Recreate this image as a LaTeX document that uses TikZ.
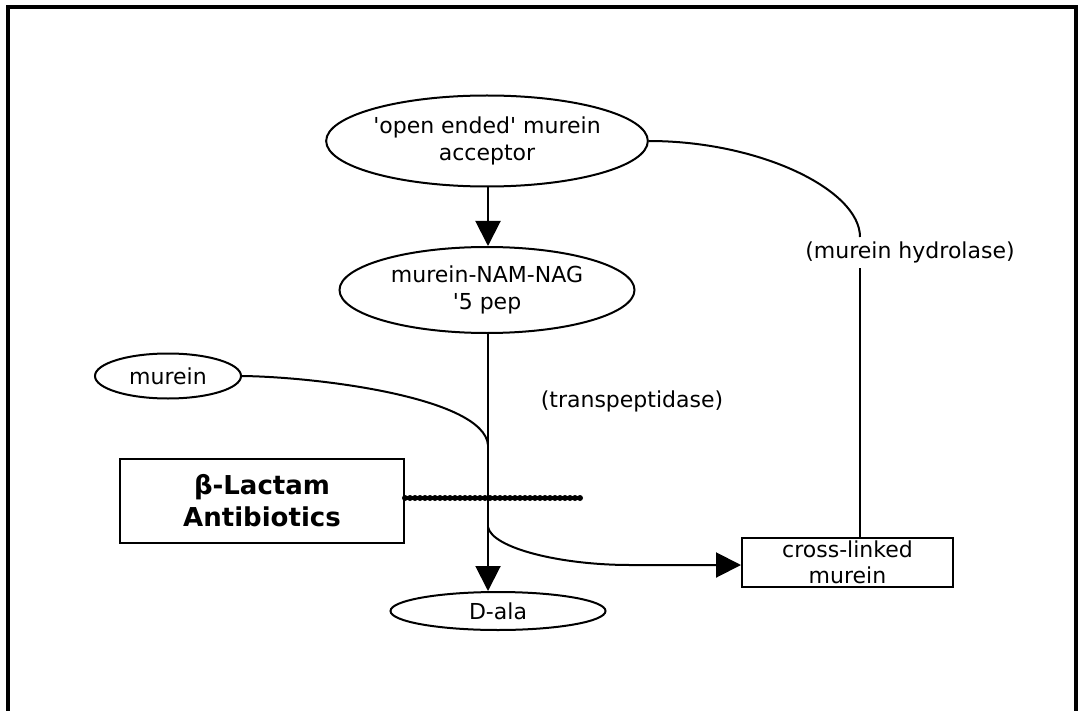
\documentclass[tikz,border=0pt]{standalone}
\usepackage{fontspec}
\setmainfont{DejaVu Sans}[Ligatures=TeXOff]
\usetikzlibrary{shapes.geometric,arrows.meta}
\begin{document}
\begin{tikzpicture}[x=1pt,y=-1pt, line width=2pt,
  ell/.style={ellipse, draw, inner sep=0pt, align=center, font=\fontsize{22}{27}\selectfont},
  rbox/.style={rectangle, draw, inner sep=0pt, align=center},
  lbl/.style={inner sep=0pt, font=\fontsize{22}{27}\selectfont},
  arr/.style={-{Triangle[length=25pt,width=25pt]}},
  blk/.style={line width=6pt, dash pattern=on 0pt off 5pt, line cap=round}]
\useasboundingbox (0,0) rectangle (1078,711);
\draw[line width=3.5pt] (8,711) -- (8,7) -- (1076,7) -- (1076,711);

\node[ell, minimum width=307pt, minimum height=91pt] (A) at (487,141) {'open ended' murein\\acceptor};
\node[ell, minimum width=295pt, minimum height=86pt] (B) at (487,290) {murein-NAM-NAG\\'5 pep};
\node[ell, minimum width=146pt, minimum height=45pt] (M) at (168,376) {murein};
\node[ell, minimum width=215pt, minimum height=38pt] (D) at (498,611) {D-ala};
\node[rbox, minimum width=284pt, minimum height=84pt, font=\bfseries\fontsize{26}{32}\selectfont] (L) at (262,501) {β-Lactam\\Antibiotics};
\node[rbox, minimum width=211pt, minimum height=49pt, font=\fontsize{22}{26}\selectfont] (C) at (847.5,562.5) {cross-linked\\murein};
\node[lbl] (T) at (632,401) {(transpeptidase)};
\node[lbl] (H) at (910,252) {(murein hydrolase)};

\coordinate (j1) at (488,445);
\coordinate (j2) at (488,527);
\coordinate (h1) at (860,237);
\coordinate (h2) at (860,268);
\coordinate (e1) at (580,498);

\draw[arr] (A.south -| 488,0) -- (B.north -| 488,0);
\draw[arr] (B.south -| 488,0) -- (D.north -| 488,0);
\draw (M.east) .. controls (320,377) and (484,398) .. (j1);
\draw[arr] (j2) .. controls (492,548) and (560,565) .. (630,565) -- (C.west |- 0,565);
\draw (A.east) .. controls (760,141) and (860,190) .. (h1);
\draw (h2) -- (h2 |- C.north);
\draw[blk] (L.east |- e1) -- (e1);
\end{tikzpicture}
\end{document}
